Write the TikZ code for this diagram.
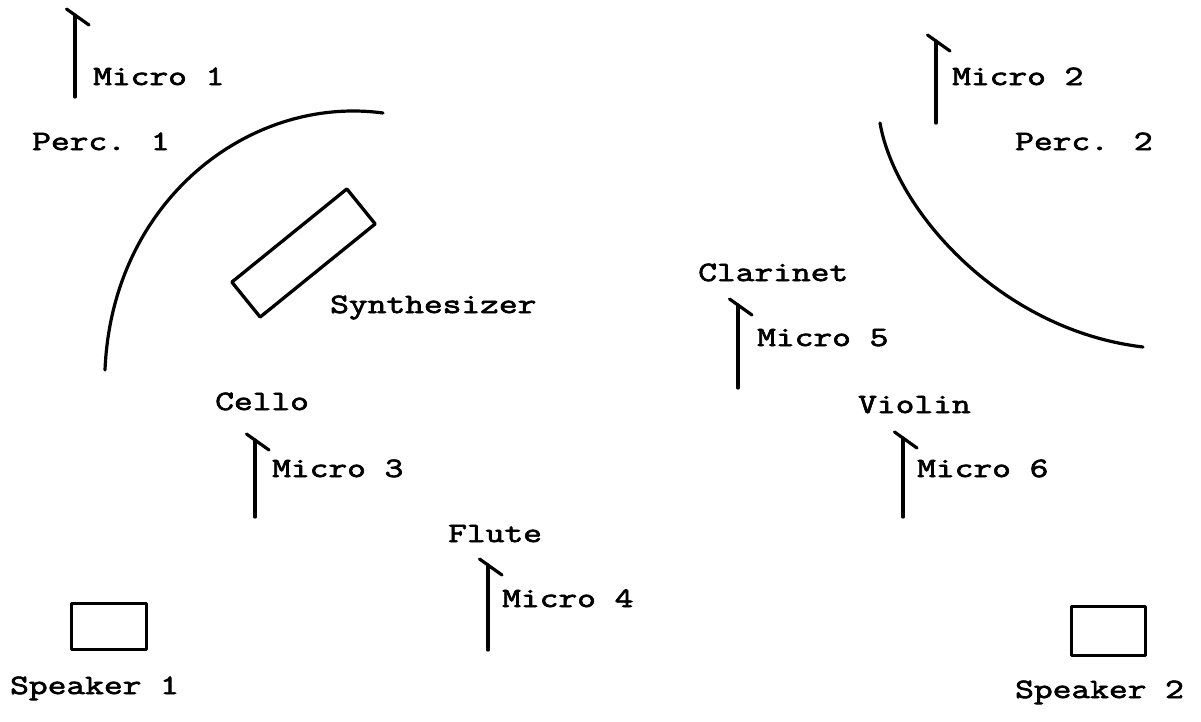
\documentclass[tikz,border=0pt]{standalone}
\usepackage{fontspec}
\newfontfamily\typew{Latin Modern Mono}[FakeStretch=1.3,AutoFakeBold=2.5]
\begin{document}
\begin{tikzpicture}[x=1pt,y=-1pt,
  lbl/.style={anchor=base west,inner sep=0pt,font=\typew\bfseries\fontsize{28}{28}\selectfont},
  stroke/.style={line width=3.2pt,line cap=round,line join=round},
  box/.style={draw,line width=3.3pt,inner sep=0pt,line join=round}]
\useasboundingbox[fill=white] (0,0) rectangle (1201,721);
% microphone symbol: x, foot y, top y, name
\newcommand{\mymic}[4]{%
  \coordinate (#4b) at (#1,#2);
  \coordinate (#4t) at (#1,#3);
  \coordinate (#4l) at (#1-8.5,#3-6);
  \coordinate (#4r) at (#1+14,#3+10);
  \draw[stroke] (#4b) -- (#4t);
  \draw[stroke] (#4l) -- (#4r);}
\mymic{75}{97}{15}{mA}
\mymic{936}{123}{41}{mB}
\mymic{255}{517}{440}{mC}
\mymic{488}{650}{565}{mD}
\mymic{738}{388}{305}{mE}
\mymic{903}{517}{438}{mF}
% labels
\node[lbl] (micro1) at (93,85) {Micro 1};
\node[lbl] (perc1) at (32,150) {Perc. 1};
\node[lbl] (micro2) at (952,85) {Micro 2};
\node[lbl] (perc2) at (1015,150) {Perc. 2};
\node[lbl] (synth) at (330,313) {Synthesizer};
\node[lbl] (clar) at (698,281) {Clarinet};
\node[lbl] (micro5) at (757,346) {Micro 5};
\node[lbl] (cello) at (215,410) {Cello};
\node[lbl] (violin) at (858,413) {Violin};
\node[lbl] (micro3) at (272,477) {Micro 3};
\node[lbl] (micro6) at (917,477) {Micro 6};
\node[lbl] (flute) at (448,542) {Flute};
\node[lbl] (micro4) at (502,607) {Micro 4};
\node[lbl] (spk1) at (10,694) {Speaker 1};
\node[lbl] (spk2) at (1015,698) {Speaker 2};
% arcs
\coordinate (a1s) at (105,370);
\coordinate (a1e) at (383,113);
\draw[stroke] (a1s) .. controls (112,200) and (250,95) .. (a1e);
\coordinate (a2s) at (880,123);
\coordinate (a2e) at (1143,347);
\draw[stroke] (a2s) .. controls (895,210) and (1000,330) .. (a2e);
% synthesizer
\node[box,rotate=39,minimum width=148pt,minimum height=45pt] (synbox) at (303.5,253) {};
% speakers
\node[box,minimum width=75pt,minimum height=46pt] (sp1box) at (109,626.5) {};
\node[box,minimum width=74pt,minimum height=49pt] (sp2box) at (1108.5,631) {};
\end{tikzpicture}
\end{document}
